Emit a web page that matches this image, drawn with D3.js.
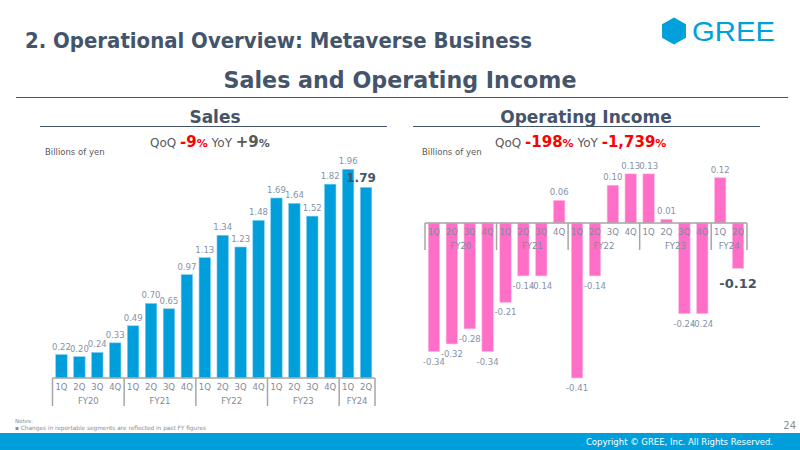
<!DOCTYPE html>
<html>
<head>
<meta charset="utf-8">
<script src="https://cdn.jsdelivr.net/npm/d3@7"></script>
<style>
  body { margin: 0; background: #fff; }
  svg { display: block; font-family: "DejaVu Sans", Verdana, sans-serif; }
</style>
</head>
<body>
<div id="chart"></div>
<script>
// data
var years = ["FY20", "FY21", "FY22", "FY23", "FY24"];
var quarters = ["1Q", "2Q", "3Q", "4Q"];
var periods = ["FY20-1Q","FY20-2Q","FY20-3Q","FY20-4Q","FY21-1Q","FY21-2Q","FY21-3Q","FY21-4Q",
               "FY22-1Q","FY22-2Q","FY22-3Q","FY22-4Q","FY23-1Q","FY23-2Q","FY23-3Q","FY23-4Q",
               "FY24-1Q","FY24-2Q"];
var sales = [0.22, 0.20, 0.24, 0.33, 0.49, 0.70, 0.65, 0.97, 1.13, 1.34, 1.23, 1.48, 1.69, 1.64, 1.52, 1.82, 1.96, 1.79];
var opIncome = [-0.34, -0.32, -0.28, -0.34, -0.21, -0.14, -0.14, 0.06, -0.41, -0.14, 0.10, 0.13, 0.13, 0.01, -0.24, -0.24, 0.12, -0.12];

var W = 800, H = 450;
var dark = "#44546a", labelGray = "#8593a8", axisGray = "#a6a6a6";

var svg = d3.select("#chart").append("svg")
    .attr("width", W)
    .attr("height", H);

// page title
svg.append("text")
    .attr("x", 25).attr("y", 48)
    .attr("fill", dark)
    .style("font-size", "21px").style("font-weight", "bold")
    .attr("textLength", 507).attr("lengthAdjust", "spacingAndGlyphs")
    .text("2. Operational Overview: Metaverse Business");

// logo
var hex = d3.range(6).map(function(i) {
  var a = Math.PI / 3 * i + Math.PI / 6;
  return [674 + 13.8 * Math.cos(a), 31 + 13.5 * Math.sin(a)];
});
svg.append("polygon")
    .attr("points", hex.map(function(p) { return p.join(","); }).join(" "))
    .attr("fill", "#00a0dc");
svg.append("text")
    .attr("x", 692).attr("y", 40.5)
    .attr("fill", "#00a0dc")
    .style("font-family", "'Liberation Sans', sans-serif")
    .style("font-size", "28px")
    .attr("textLength", 83).attr("lengthAdjust", "spacingAndGlyphs")
    .text("GREE");

svg.append("text")
    .attr("x", 400).attr("y", 88)
    .attr("text-anchor", "middle")
    .attr("fill", dark)
    .style("font-size", "23px").style("font-weight", "bold")
    .attr("textLength", 353).attr("lengthAdjust", "spacingAndGlyphs")
    .text("Sales and Operating Income");

svg.append("line")
    .attr("x1", 16).attr("x2", 788).attr("y1", 97.5).attr("y2", 97.5)
    .attr("stroke", dark).attr("stroke-width", 1.2);

// footer
svg.append("rect").attr("x", 0).attr("y", 433).attr("width", W).attr("height", 17).attr("fill", "#009fdb");
svg.append("text")
    .attr("x", 773).attr("y", 445).attr("text-anchor", "end")
    .attr("fill", "#fff").style("font-size", "8.5px")
    .text("Copyright \u00a9 GREE, Inc. All Rights Reserved.");
svg.append("text")
    .attr("x", 796).attr("y", 429).attr("text-anchor", "end")
    .attr("fill", "#8c8c8c").style("font-size", "10px")
    .text("24");
svg.append("text")
    .attr("x", 15).attr("y", 423)
    .attr("fill", "#8c8c8c").style("font-size", "5.5px")
    .text("Notes:");
svg.append("text")
    .attr("x", 15).attr("y", 430)
    .attr("fill", "#8c8c8c").style("font-size", "5.8px")
    .text("\u25aa  Changes in reportable segments are reflected in past FY figures");

function header(cx, x1, x2, title) {
  svg.append("text")
      .attr("x", cx).attr("y", 123)
      .attr("text-anchor", "middle")
      .attr("fill", dark)
      .style("font-size", "17px").style("font-weight", "bold")
      .text(title);
  svg.append("line")
      .attr("x1", x1).attr("x2", x2).attr("y1", 126.5).attr("y2", 126.5)
      .attr("stroke", dark).attr("stroke-width", 1.2);
}

function growth(x, parts) {
  var t = svg.append("text").attr("x", x).attr("y", 147);
  parts.forEach(function(p) {
    t.append("tspan")
        .attr("fill", p[1])
        .style("font-size", p[2] + "px")
        .style("font-weight", p[3] ? "bold" : "normal")
        .text(p[0]);
  });
}

function categoryAxis(g, x, base, depth) {
  var x0 = x.range()[0], x1 = x.range()[1];
  g.append("line")
      .attr("x1", x0).attr("x2", x1).attr("y1", base).attr("y2", base)
      .attr("stroke", axisGray).attr("stroke-width", 1.5);
  var bounds = [0, 4, 8, 12, 16, 18];
  bounds.forEach(function(i) {
    var xx = i < periods.length ? x(periods[i]) - x.step() * x.paddingInner() / 2 : x1;
    if (i === 0) xx = x0;
    g.append("line")
        .attr("x1", xx).attr("x2", xx).attr("y1", base).attr("y2", base + depth)
        .attr("stroke", axisGray).attr("stroke-width", 1.5);
  });
  g.selectAll(".q").data(periods).enter().append("text")
      .attr("x", function(d) { return x(d) + x.bandwidth() / 2; })
      .attr("y", base + 12)
      .attr("text-anchor", "middle")
      .attr("fill", "#7f8a99").style("font-size", "8.5px")
      .text(function(d) { return d.split("-")[1]; });
  years.forEach(function(y, i) {
    var first = periods.indexOf(y + "-1Q");
    var n = periods.filter(function(p) { return p.indexOf(y) === 0; }).length;
    var cx = x(periods[first]) + (x(periods[first + n - 1]) + x.bandwidth() - x(periods[first])) / 2;
    g.append("text")
        .attr("x", cx).attr("y", base + 26)
        .attr("text-anchor", "middle")
        .attr("fill", "#7f8a99").style("font-size", "8.5px")
        .text(y);
  });
}

// ---------- Sales ----------
header(215, 40, 387, "Sales");
growth(150, [["QoQ ", "#595959", 12, false], ["-9", "#ff0000", 15, true], ["%", "#ff0000", 11, true],
             [" YoY ", "#595959", 12, false], ["+9", "#595959", 15, true], ["%", "#595959", 11, true]]);
svg.append("text")
    .attr("x", 45).attr("y", 155)
    .attr("fill", "#595959").style("font-size", "8.5px")
    .text("Billions of yen");

var xs = d3.scaleBand().domain(periods).range([52.5, 375]).paddingInner(0.36).paddingOuter(0.18);
var ys = d3.scaleLinear().domain([0, 2]).range([378, 165]);

var gs = svg.append("g");
gs.selectAll(".bar").data(sales).enter().append("rect")
    .attr("x", function(d, i) { return xs(periods[i]); })
    .attr("y", function(d) { return ys(d); })
    .attr("width", xs.bandwidth())
    .attr("height", function(d) { return ys(0) - ys(d); })
    .attr("fill", "#009fdb")
    .attr("stroke", "#7fcfee").attr("stroke-width", 0.6);
gs.selectAll(".lbl").data(sales).enter().append("text")
    .attr("x", function(d, i) {
      return xs(periods[i]) + xs.bandwidth() / 2 + (i === sales.length - 1 ? -5 : 0);
    })
    .attr("y", function(d) { return ys(d) - 5; })
    .attr("text-anchor", "middle")
    .attr("fill", function(d, i) { return i === sales.length - 1 ? dark : labelGray; })
    .style("font-size", function(d, i) { return i === sales.length - 1 ? "12px" : "8.5px"; })
    .style("font-weight", function(d, i) { return i === sales.length - 1 ? "bold" : "normal"; })
    .text(function(d) { return d.toFixed(2); });
categoryAxis(gs, xs, 378, 28);

// ---------- Operating income ----------
header(586, 413, 760, "Operating Income");
growth(495, [["QoQ ", "#595959", 12, false], ["-198", "#ff0000", 15, true], ["%", "#ff0000", 11, true],
             [" YoY ", "#595959", 12, false], ["-1,739", "#ff0000", 15, true], ["%", "#ff0000", 11, true]]);
svg.append("text")
    .attr("x", 422).attr("y", 155)
    .attr("fill", "#595959").style("font-size", "8.5px")
    .text("Billions of yen");

var xo = d3.scaleBand().domain(periods).range([425, 747]).paddingInner(0.36).paddingOuter(0.18);
var yo = d3.scaleLinear().domain([-0.5, 0.2]).range([412, 147.4]);

var go = svg.append("g");
go.selectAll(".bar").data(opIncome).enter().append("rect")
    .attr("x", function(d, i) { return xo(periods[i]); })
    .attr("y", function(d) { return Math.min(yo(d), yo(0)); })
    .attr("width", xo.bandwidth())
    .attr("height", function(d) { return Math.abs(yo(0) - yo(d)); })
    .attr("fill", "#ff6ec7")
    .attr("stroke", "#ffc0e6").attr("stroke-width", 0.6);
categoryAxis(go, xo, yo(0), 27);
go.selectAll(".lbl").data(opIncome).enter().append("text")
    .attr("x", function(d, i) { return xo(periods[i]) + xo.bandwidth() / 2; })
    .attr("y", function(d, i) {
      if (i === opIncome.length - 1) return yo(d) + 20;
      return d >= 0 ? yo(d) - 5 : yo(d) + 13;
    })
    .attr("text-anchor", "middle")
    .attr("fill", function(d, i) { return i === opIncome.length - 1 ? dark : labelGray; })
    .style("font-size", function(d, i) { return i === opIncome.length - 1 ? "13px" : "8.5px"; })
    .style("font-weight", function(d, i) { return i === opIncome.length - 1 ? "bold" : "normal"; })
    .text(function(d) { return d.toFixed(2); });
</script>
</body>
</html>
